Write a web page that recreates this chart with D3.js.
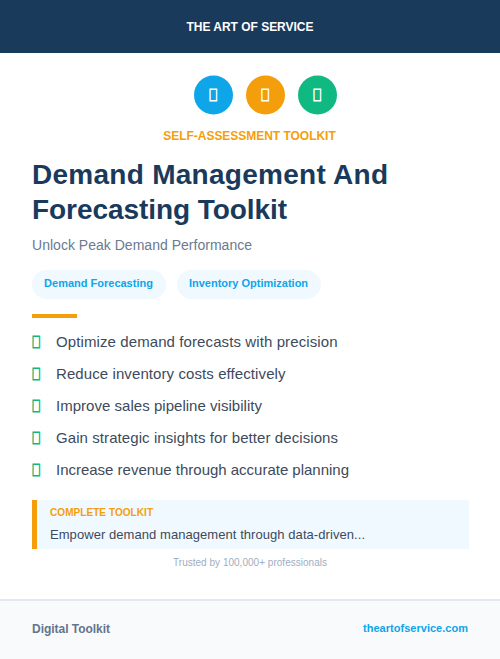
<!DOCTYPE html>
<html><head><meta charset="utf-8">
<script src="https://cdn.jsdelivr.net/npm/d3@7"></script>
<style>html,body{margin:0;padding:0;background:#fff}svg{display:block}text{font-family:"Liberation Sans",sans-serif}</style>
</head><body><svg id="c" width="500" height="659"></svg>
<script>
const brand="THE ART OF SERVICE";
const iconColors=["#0ea5e9","#f59e0b","#10b981"];
const iconGlyphs=["\u{10FFFD}","\u{10FFFD}","\u{10FFFD}"];
const eyebrow="SELF-ASSESSMENT TOOLKIT";
const titleLines=["Demand Management And","Forecasting Toolkit"];
const subtitle="Unlock Peak Demand Performance";
const tags=["Demand Forecasting","Inventory Optimization"];
const bullets=["Optimize demand forecasts with precision","Reduce inventory costs effectively","Improve sales pipeline visibility","Gain strategic insights for better decisions","Increase revenue through accurate planning"];
const calloutLabel="COMPLETE TOOLKIT";
const calloutText="Empower demand management through data-driven...";
const trusted="Trusted by 100,000+ professionals";
const footerLeft="Digital Toolkit";
const footerRight="theartofservice.com";

const svg=d3.select("#c");
const T=(x,y,s,size,weight,fill,anchor="start",len=null)=>{
  const t=svg.append("text").attr("x",x).attr("y",y).attr("font-size",size).attr("font-weight",weight).attr("fill",fill).attr("text-anchor",anchor).text(s);
  if(len) t.attr("textLength",len).attr("lengthAdjust","spacing");
  return t;
};
const R=(x,y,w,h,fill,r=0)=>svg.append("rect").attr("x",x).attr("y",y).attr("width",w).attr("height",h).attr("fill",fill).attr("rx",r);
const tofu=(x,y,s,fill)=>svg.append("text").attr("transform",`translate(${x},${y}) scale(0.8,1.12)`).attr("text-anchor","middle").attr("font-size",16).attr("fill",fill).attr("stroke",fill).attr("stroke-width",0.7).text(s);

R(0,0,500,53,"#1a3a5c");
T(250,31,brand,12,700,"#fff","middle",127);

const ix=d3.scalePoint().domain(d3.range(iconColors.length)).range([213.5,317.5]);
svg.selectAll("circle.i").data(iconColors).join("circle").attr("class","i").attr("cx",(d,i)=>ix(i)).attr("cy",95).attr("r",19.5).attr("fill",d=>d);
iconGlyphs.forEach((g,i)=>tofu(ix(i)-0.5,101,g,"#fff"));

T(249.5,140,eyebrow,12,700,"#f59e0b","middle",172.5);
const titleLen=[356,255];
titleLines.forEach((s,i)=>T(32,184+i*35,s,28,700,"#1a3a5c","start",titleLen[i]));
T(32,250,subtitle,14,400,"#6b7a90","start",220);

const tagX=[32,177],tagW=[134,144];
tags.forEach((s,i)=>{R(tagX[i],270,tagW[i],29,"#f0f9ff",14.5);T(tagX[i]+tagW[i]/2-0.5,287,s,11,700,"#0ea5e9","middle");});

R(32,314,45,4,"#f59e0b");

const by=d3.scalePoint().domain(d3.range(bullets.length)).range([342,470]);
const bulletLen=[281.5,229.5,206,282,293];
bullets.forEach((s,i)=>{
  tofu(36,by(i)+6,"\u{10FFFD}","#10b981");
  T(56,by(i)+5,s,15,400,"#3d4a5c","start",bulletLen[i]);
});

R(32,500,437,49,"#f0f9ff");
R(32,500,5,49,"#f59e0b");
T(50,516,calloutLabel,10,700,"#f59e0b","start",103);
T(50,539,calloutText,13,400,"#3d4a5c","start",315);
T(250,566,trusted,10,400,"#a0aec0","middle",154);

R(0,600,500,59,"#f8fafc");
R(0,599,500,2,"#e2e8f0");
T(32,633,footerLeft,12,700,"#64748b","start",78);
T(468,632,footerRight,11,700,"#0ea5e9","end",105);
</script></body></html>
